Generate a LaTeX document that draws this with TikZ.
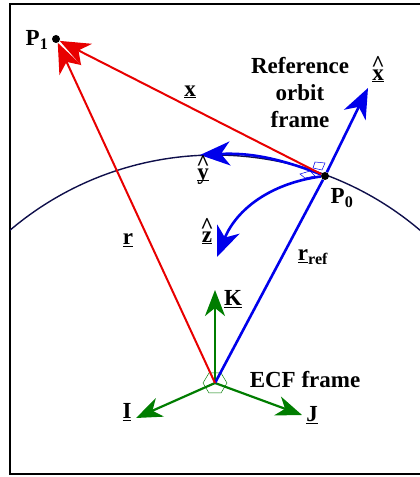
\documentclass[tikz,border=0pt]{standalone}
\usepackage{fontspec}
\setmainfont{Liberation Serif}
\usetikzlibrary{arrows.meta,positioning,calc}
\definecolor{vecred}{RGB}{232,0,0}
\definecolor{vecblue}{RGB}{0,0,235}
\definecolor{vecgreen}{RGB}{0,125,0}
\definecolor{orbitnavy}{RGB}{15,15,75}
\newcommand{\uvec}[1]{\underline{#1}}
\newcommand{\hvec}[1]{\underline{\ooalign{#1\cr\hidewidth\raisebox{0.36em}{\textasciicircum}\hidewidth\cr}}}

\begin{document}
\begin{tikzpicture}[x=1pt, y=1pt, font=\bfseries\fontsize{23}{27}\selectfont]
    \tikzstyle{dot} = [circle, fill=black, inner sep=0pt, minimum size=8pt]
    \tikzstyle{redvec} = [vecred, line width=2pt, -{Stealth[length=30pt, width=24pt, inset=9pt]}]
    \tikzstyle{bluevec} = [vecblue, line width=2.6pt, -{Stealth[length=30pt, width=24pt, inset=9pt]}]
    \tikzstyle{greenvec} = [vecgreen, line width=2.2pt, -{Stealth[length=26pt, width=20pt, inset=8pt]}]
    \tikzstyle{marker} = [line width=0.5pt]
    \tikzstyle{lbl} = [inner sep=1pt, align=center]

    \useasboundingbox (0,0) rectangle (420,477);
    \draw [line width=2pt] (421,473) -- (10,473) -- (10,3) -- (421,3);

    % orbit arc
    \begin{scope}
        \clip (10,3) rectangle (420,473);
        \draw [orbitnavy, line width=1.4pt] (215,5) ++(131:317) arc (131:46:317);
    \end{scope}

    % points and vector tips
    \coordinate (O) at (215,94);
    \node [dot] (p0) at (325,301) {};
    \node [dot] (p1) at (56,438) {};
    \coordinate (xhat) at (368,389);
    \coordinate (yhat) at (200,322);
    \coordinate (zhat) at (217,220);
    \coordinate (K) at (215,187);
    \coordinate (I) at (136,59);
    \coordinate (J) at (302,62);

    % right angle marks
    \draw [marker, vecblue] ($(p0)+(-10,14)$) -- ++(10,-1) -- ++(-3,-7) -- ++(-9,2) -- cycle;
    \draw [marker, vecblue] ($(p0)+(-25,2)$) -- ++(10,3) -- ++(5,-5) -- ++(-10,-2) -- cycle;
    \draw [marker, vecgreen] ($(O)+(-12,0)$) -- ++(6,10) -- ++(12,0) -- ++(6,-10) -- ++(-6,-10) -- ++(-12,0) -- cycle;

    % ECF frame
    \draw [greenvec] (O) -- (K);
    \draw [greenvec] (O) -- (I);
    \draw [greenvec] (O) -- (J);

    % reference orbit frame
    \draw [vecblue, line width=2.6pt] (O) -- (p0);
    \draw [bluevec] (p0) -- (xhat);
    \draw [bluevec] (p0) to[bend right=12] (yhat);
    \draw [bluevec] (p0) to[bend right=30] (zhat);

    % relative position
    \draw [redvec] (O) -- (p1);
    \draw [redvec] (p0) -- (p1);

    % labels
    \node [lbl] (lblp1) at (37,437) {P\textsubscript{1}};
    \node [lbl] (lblp0) at (342,279) {P\textsubscript{0}};
    \node [lbl] (lblx) at (190,385) {\uvec{x}};
    \node [lbl] (lblr) at (128,237) {\uvec{r}};
    \node [lbl] (lblrref) at (313,220) {\uvec{r}\textsubscript{ref}};
    \node [lbl] (lblxhat) at (378,401) {\hvec{x}};
    \node [lbl] (lblyhat) at (203,302) {\hvec{y}};
    \node [lbl] (lblzhat) at (207,239) {\hvec{z}};
    \node [lbl] (lblorbit) at (300,384) {Reference\\orbit\\frame};
    \node [lbl] (lblecf) at (305,97) {ECF frame};
    \node [lbl] (lblK) at (233,178) {\uvec{K}};
    \node [lbl] (lblI) at (127,65) {\uvec{I}};
    \node [lbl] (lblJ) at (312,62) {\uvec{J}};
\end{tikzpicture}
\end{document}
